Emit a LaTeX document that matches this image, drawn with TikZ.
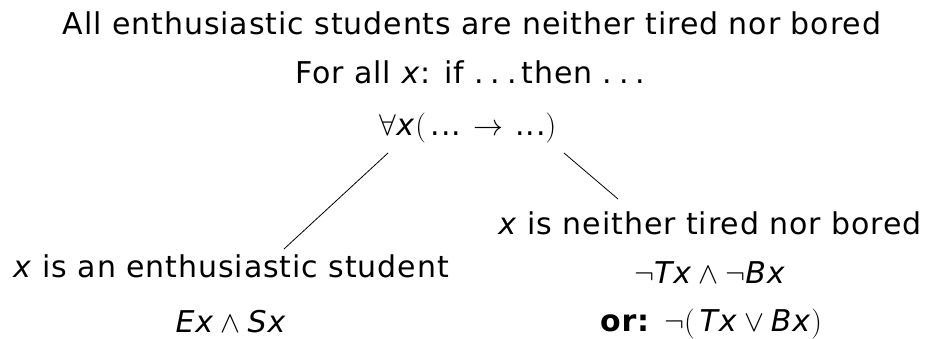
\RequirePackage{fix-cm}
\documentclass[tikz,border=0pt]{standalone}
\usepackage{fontspec}
\setmainfont{DejaVu Sans}[LetterSpace=3]
\newcommand{\mydots}{.\hspace{0.22em}.\hspace{0.22em}.}
\newcommand{\gap}{\hspace{0.22em}}
\begin{document}
\begin{tikzpicture}[x=1pt,y=1pt,
  lbl/.style={anchor=base,inner sep=0pt,font=\fontsize{30}{36}\selectfont},
  edge/.style={line width=0.8pt,black}]
\useasboundingbox (0,0) rectangle (928,339);
\node[lbl] (title) at (472,304) {All enthusiastic students are neither tired nor bored};
\node[lbl] (para) at (470,255) {For all \textit{x}: if \mydots\,then \mydots};
\node[lbl] (f) at (468,203) {$\forall$\textit{x}$($\,...\hspace{0.4em}$\rightarrow$\hspace{0.4em}...$)$};
\node[lbl] (l1) at (231,61) {\textit{x} is an enthusiastic student};
\node[lbl] (l2) at (231,6) {\textit{Ex}\gap$\wedge$\gap\textit{Sx}};
\node[lbl] (r1) at (710,104) {\textit{x} is neither tired nor bored};
\node[lbl] (r2) at (710,55) {$\neg$\textit{Tx}\gap$\wedge$\gap$\neg$\textit{Bx}};
\node[lbl] (r3) at (711,7) {\textbf{or:} $\neg($\,\textit{Tx}\gap$\vee$\gap\textit{Bx}$)$};
\coordinate (la) at (388,186);
\coordinate (lb) at (284,90);
\coordinate (ra) at (564,186);
\coordinate (rb) at (618,140);
\draw[edge] (la) -- (lb);
\draw[edge] (ra) -- (rb);
\end{tikzpicture}
\end{document}
